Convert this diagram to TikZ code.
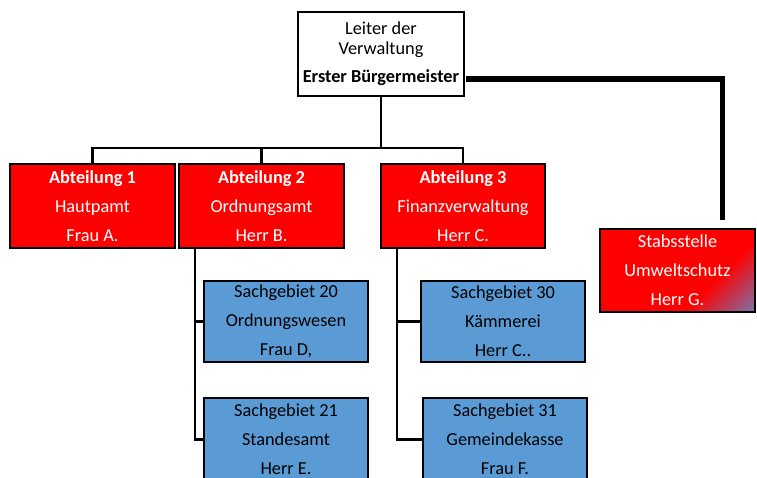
\documentclass[tikz,border=0pt]{standalone}
\usepackage{fontspec}
\setmainfont{Carlito}
\usetikzlibrary{calc}
\definecolor{ored}{HTML}{FF0000}
\definecolor{oblue}{HTML}{5B9BD5}
\definecolor{sblue}{HTML}{5E8CD0}
\pgfdeclarehorizontalshading{stabgrad}{100bp}{color(0bp)=(ored); color(64bp)=(ored); color(90bp)=(sblue); color(100bp)=(sblue)}
\begin{document}
\begin{tikzpicture}[x=1pt,y=-1pt,
  box/.style={draw=black, line width=2.5pt, inner sep=0pt, align=center,
    minimum width=165pt, minimum height=84pt, font=\fontsize{18.3}{29}\selectfont},
  redbox/.style={box, fill=ored, text=white},
  bluebox/.style={box, fill=oblue, text=black, minimum width=164pt, minimum height=81pt},
  conn/.style={draw=black, line width=2.4pt},
  thick conn/.style={draw=black, line width=5.5pt}]
\useasboundingbox (0,0) rectangle (757,478);
\clip (0,0) rectangle (757,478);

\node[box, fill=white, minimum width=166pt, font=\fontsize{18.3}{20}\selectfont] (L) at (381,54)
  {Leiter der\\Verwaltung\\[8pt]\textbf{Erster Bürgermeister}};

\node[redbox] (A1) at (92.5,206) {\textbf{Abteilung 1}\\Hautpamt\\Frau A.};
\node[redbox] (A2) at (261.5,206) {\textbf{Abteilung 2}\\Ordnungsamt\\Herr B.};
\node[redbox, minimum width=164pt] (A3) at (463,206) {\textbf{Abteilung 3}\\Finanzverwaltung\\Herr C.};

\node[box, shading=stabgrad, shading angle=-45, text=white, minimum width=155pt, minimum height=83pt] (S) at (677.5,270.5)
  {Stabsstelle\\Umweltschutz\\Herr G.};

\node[bluebox] (S20) at (286,321.5) {Sachgebiet 20\\Ordnungswesen\\Frau D,};
\node[bluebox, minimum height=83pt] (S21) at (286,439.5) {Sachgebiet 21\\Standesamt\\Herr E.};
\node[bluebox] (S30) at (503,321.5) {Sachgebiet 30\\Kämmerei\\Herr C..};
\node[bluebox, minimum height=83pt] (S31) at (505,439.5) {Sachgebiet 31\\Gemeindekasse\\Frau F.};

\coordinate (bus) at (381,148);
\draw[conn] (L.south) -- (L.south |- bus);
\draw[conn] (A1.north) |- (bus) -| (A3.north);
\draw[conn] (A2.north) -- (A2.north |- bus);

\draw[thick conn] ($(L.east)+(1,25)$) -| ($(S.north)+(45,-8)$);

\coordinate (v2) at ($(A2.south west)+(17,0)$);
\draw[conn] (v2) |- (S21.west);
\draw[conn] (v2 |- S20.west) -- (S20.west);

\coordinate (v3) at ($(A3.south west)+(17,0)$);
\draw[conn] (v3) |- (S31.west);
\draw[conn] (v3 |- S30.west) -- (S30.west);
\end{tikzpicture}
\end{document}
